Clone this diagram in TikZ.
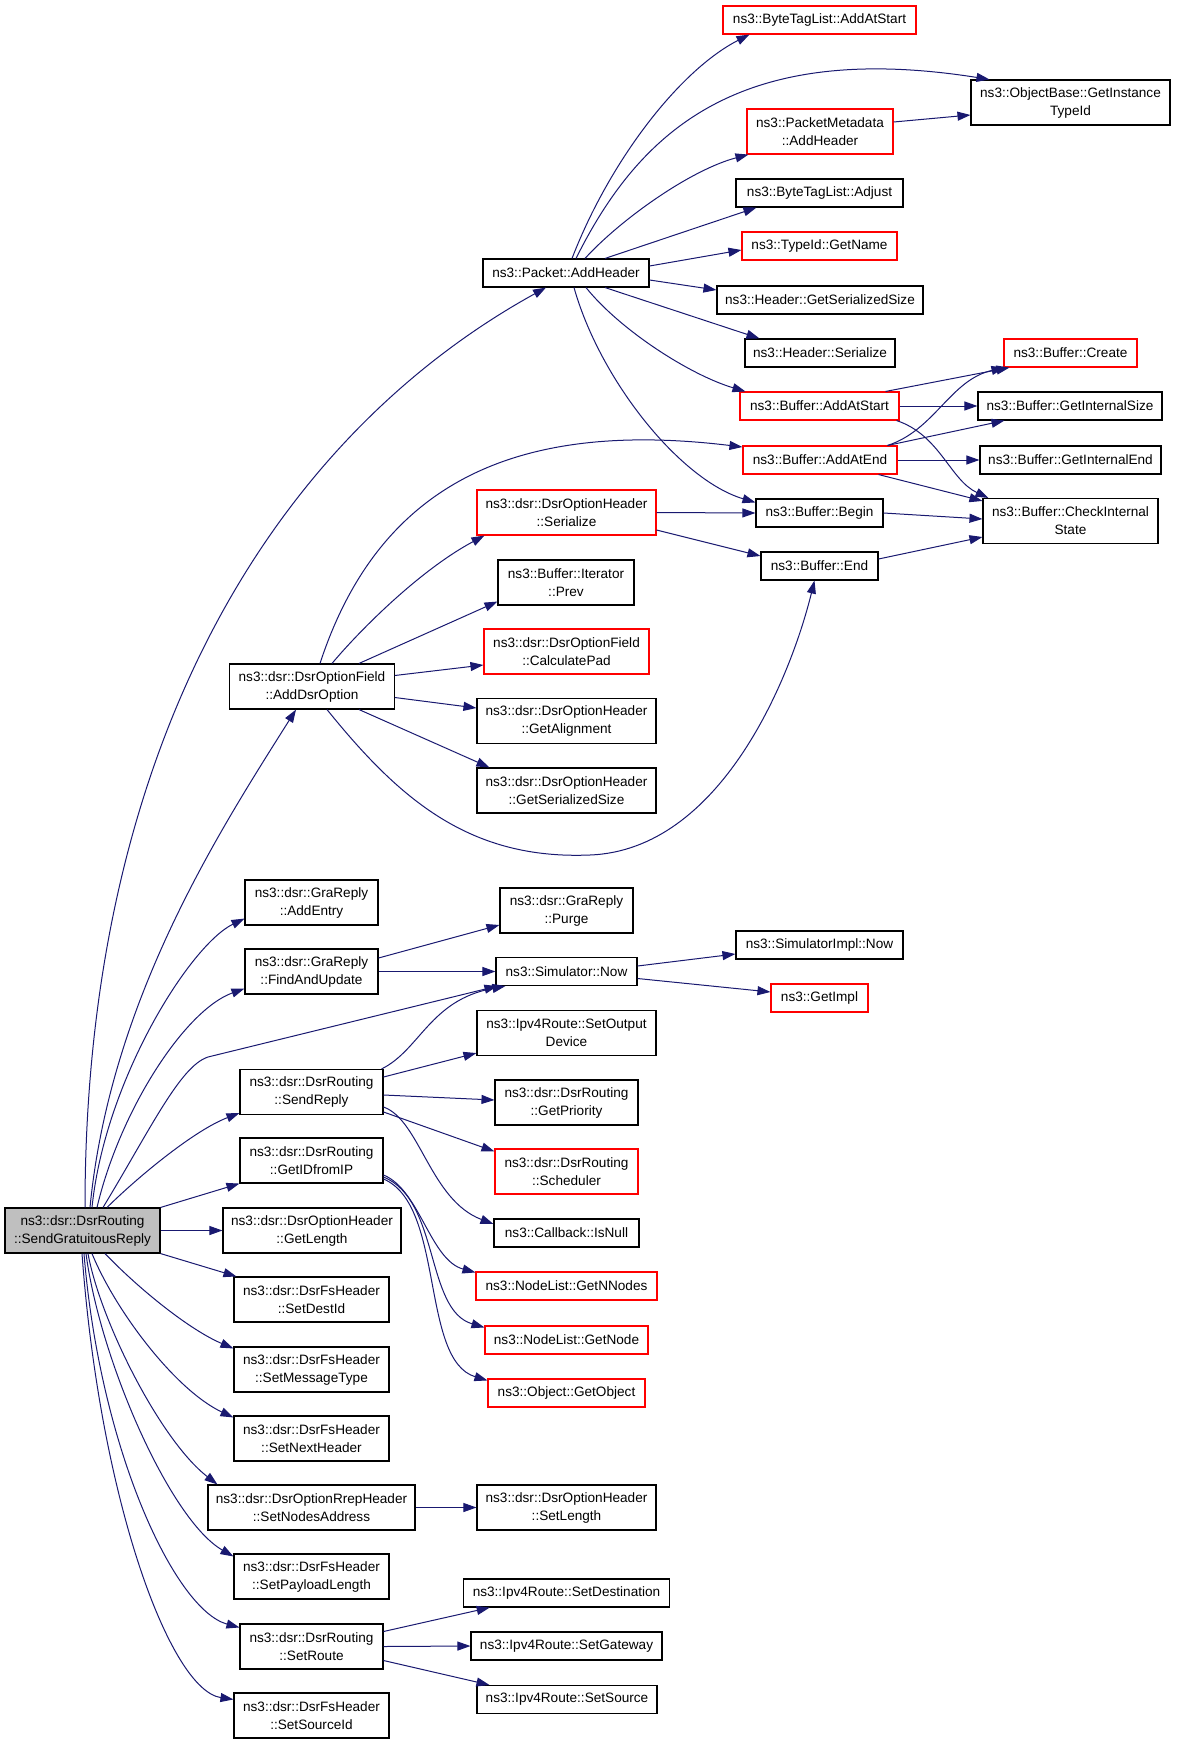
\documentclass[tikz,border=0pt]{standalone}
\usepackage{fontspec}
\setmainfont{Liberation Sans}
\usetikzlibrary{arrows.meta}
\definecolor{edgeblue}{HTML}{191970}
\definecolor{fngray}{HTML}{BFBFBF}

\begin{document}
\begin{tikzpicture}[x=1pt, y=-1pt,
        font=\fontsize{13.6}{18}\selectfont,
        fn/.style={rectangle, draw=black, line width=1.1pt, inner sep=0pt,
                   align=center, minimum height=28pt},
        fntwo/.style={fn, minimum height=45pt},
        cut/.style={draw=red},
        call/.style={-{Triangle[length=13pt, width=9pt]}, draw=edgeblue,
                     line width=1pt}]
        \useasboundingbox (0,0) rectangle (1176,1744);

        \node[fntwo, fill=fngray, minimum width=155pt] (sgr) at (82.5,1230.5) {ns3::dsr::DsrRouting\\::SendGratuitousReply};
        \node[fn, minimum width=166pt] (pah) at (566,273) {ns3::Packet::AddHeader};
        \node[fn, cut, minimum width=193pt] (btla) at (819.5,20) {ns3::ByteTagList::AddAtStart};
        \node[fntwo, minimum width=199pt] (obgit) at (1070.5,102.5) {ns3::ObjectBase::GetInstance\\TypeId};
        \node[fntwo, cut, minimum width=146pt] (pmah) at (820,131.5) {ns3::PacketMetadata\\::AddHeader};
        \node[fn, minimum width=167pt] (btladj) at (819.5,193) {ns3::ByteTagList::Adjust};
        \node[fn, cut, minimum width=155pt] (tgn) at (819.5,246) {ns3::TypeId::GetName};
        \node[fn, minimum width=206pt] (hgss) at (820,300) {ns3::Header::GetSerializedSize};
        \node[fn, minimum width=150pt] (hser) at (820,353) {ns3::Header::Serialize};
        \node[fn, cut, minimum width=133pt] (bcre) at (1070.5,353) {ns3::Buffer::Create};
        \node[fn, cut, minimum width=159pt] (baas) at (819.5,406) {ns3::Buffer::AddAtStart};
        \node[fn, minimum width=184pt] (bgis) at (1070,406) {ns3::Buffer::GetInternalSize};
        \node[fn, cut, minimum width=154pt] (baae) at (820,460) {ns3::Buffer::AddAtEnd};
        \node[fn, minimum width=181pt] (bgie) at (1070.5,460) {ns3::Buffer::GetInternalEnd};
        \node[fn, minimum width=127pt] (bbeg) at (819.5,513) {ns3::Buffer::Begin};
        \node[fntwo, minimum width=175pt] (bcis) at (1070.5,521) {ns3::Buffer::CheckInternal\\State};
        \node[fntwo, cut, minimum width=179pt] (dohser) at (566.5,512.5) {ns3::dsr::DsrOptionHeader\\::Serialize};
        \node[fn, minimum width=117pt] (bend) at (819.5,566) {ns3::Buffer::End};
        \node[fntwo, minimum width=136pt] (bip) at (566,582.5) {ns3::Buffer::Iterator\\::Prev};
        \node[fntwo, cut, minimum width=165pt] (dofcp) at (566.5,651.5) {ns3::dsr::DsrOptionField\\::CalculatePad};
        \node[fntwo, minimum width=179pt] (dohga) at (566.5,721) {ns3::dsr::DsrOptionHeader\\::GetAlignment};
        \node[fntwo, minimum width=179pt] (dohgss) at (566.5,790.5) {ns3::dsr::DsrOptionHeader\\::GetSerializedSize};
        \node[fntwo, minimum width=164.5pt] (dofado) at (312,686.5) {ns3::dsr::DsrOptionField\\::AddDsrOption};
        \node[fntwo, minimum width=133pt] (grae) at (311.5,902.5) {ns3::dsr::GraReply\\::AddEntry};
        \node[fntwo, minimum width=133pt] (grafu) at (311.5,971.5) {ns3::dsr::GraReply\\::FindAndUpdate};
        \node[fntwo, minimum width=133pt] (grpu) at (566.5,910.5) {ns3::dsr::GraReply\\::Purge};
        \node[fn, minimum width=141pt] (snow) at (566.5,971.5) {ns3::Simulator::Now};
        \node[fn, minimum width=167pt] (sinow) at (819.5,945) {ns3::SimulatorImpl::Now};
        \node[fn, cut, minimum width=97pt] (gimpl) at (819.5,998) {ns3::GetImpl};
        \node[fntwo, minimum width=179pt] (ipsod) at (566.5,1033) {ns3::Ipv4Route::SetOutput\\Device};
        \node[fntwo, minimum width=143pt] (dsrsr) at (311.5,1092) {ns3::dsr::DsrRouting\\::SendReply};
        \node[fntwo, minimum width=143pt] (dsrgp) at (566.5,1102.5) {ns3::dsr::DsrRouting\\::GetPriority};
        \node[fntwo, cut, minimum width=143pt] (dsrsch) at (566.5,1171.5) {ns3::dsr::DsrRouting\\::Scheduler};
        \node[fntwo, minimum width=143pt] (dsrgid) at (311.5,1160.5) {ns3::dsr::DsrRouting\\::GetIDfromIP};
        \node[fn, minimum width=145pt] (cbnull) at (566.5,1233) {ns3::Callback::IsNull};
        \node[fn, cut, minimum width=181pt] (nlgnn) at (566.5,1286) {ns3::NodeList::GetNNodes};
        \node[fn, cut, minimum width=163pt] (nlgn) at (566.5,1340) {ns3::NodeList::GetNode};
        \node[fn, cut, minimum width=157pt] (oggo) at (566.5,1393) {ns3::Object::GetObject};
        \node[fntwo, minimum width=178pt] (dohgl) at (312,1230.5) {ns3::dsr::DsrOptionHeader\\::GetLength};
        \node[fntwo, minimum width=155pt] (fssdi) at (311.5,1299.5) {ns3::dsr::DsrFsHeader\\::SetDestId};
        \node[fntwo, minimum width=155pt] (fssmt) at (311.5,1369.5) {ns3::dsr::DsrFsHeader\\::SetMessageType};
        \node[fntwo, minimum width=155pt] (fssnh) at (311.5,1438.5) {ns3::dsr::DsrFsHeader\\::SetNextHeader};
        \node[fntwo, minimum width=207pt] (rrepsna) at (311.5,1507.5) {ns3::dsr::DsrOptionRrepHeader\\::SetNodesAddress};
        \node[fntwo, minimum width=179pt] (dohsl) at (566.5,1507.5) {ns3::dsr::DsrOptionHeader\\::SetLength};
        \node[fntwo, minimum width=155pt] (fsspl) at (311.5,1576.5) {ns3::dsr::DsrFsHeader\\::SetPayloadLength};
        \node[fntwo, minimum width=143pt] (dsrsrt) at (311.5,1646.5) {ns3::dsr::DsrRouting\\::SetRoute};
        \node[fntwo, minimum width=155pt] (fsssi) at (311.5,1715.5) {ns3::dsr::DsrFsHeader\\::SetSourceId};
        \node[fn, minimum width=205.5pt] (ipsdst) at (566.5,1593) {ns3::Ipv4Route::SetDestination};
        \node[fn, minimum width=191pt] (ipsgw) at (566.5,1646) {ns3::Ipv4Route::SetGateway};
        \node[fn, minimum width=180pt] (ipssrc) at (567,1699.5) {ns3::Ipv4Route::SetSource};

        \coordinate (nowbend) at (208,1057);
        \coordinate (endlow) at (590,855);

        \draw[call] ([xshift=2.5pt]sgr.north) .. controls (85,750) and (270,440) .. ([xshift=-20pt]pah.south);
        \draw[call] ([xshift=7.5pt]sgr.north) .. controls (110,1000) and (220,830) .. ([xshift=-16pt]dofado.south);
        \draw[call] ([xshift=9.5pt]sgr.north) .. controls (105,1080) and (190,945) .. ([yshift=7pt]grae.south west);
        \draw[call] ([xshift=14.5pt]sgr.north) .. controls (120,1110) and (185,1010) .. ([yshift=6pt]grafu.south west);
        \draw[call] ([xshift=20.5pt]sgr.north) .. controls (150,1130) and (180,1066) .. (nowbend) -- ([xshift=2pt]snow.south west);
        \draw[call] ([xshift=24.5pt]sgr.north) .. controls (140,1175) and (195,1130) .. ([yshift=2pt]dsrsr.south west);
        \draw[call] ([xshift=22.5pt]sgr.south) .. controls (140,1290) and (190,1330) .. ([yshift=-2pt]fssmt.north west);
        \draw[call] ([xshift=9.5pt]sgr.south) .. controls (115,1310) and (175,1390) .. ([yshift=-2pt]fssnh.north west);
        \draw[call] ([xshift=5.5pt]sgr.south) .. controls (100,1320) and (160,1440) .. ([xshift=10pt]rrepsna.north west);
        \draw[call] ([xshift=3.5pt]sgr.south) .. controls (100,1360) and (170,1520) .. ([yshift=-3pt]fsspl.north west);
        \draw[call] ([xshift=1.5pt]sgr.south) .. controls (100,1450) and (175,1610) .. ([yshift=-4pt]dsrsrt.north west);
        \draw[call] ([xshift=-0.5pt]sgr.south) .. controls (100,1500) and (170,1690) .. ([yshift=-7pt]fsssi.north west);
        \path
            (sgr.north east) edge[call] (dsrgid.south west)
            (sgr.east) edge[call] (dohgl.west)
            (sgr.south east) edge[call] ([xshift=3pt]fssdi.north west);

        \draw[call] ([xshift=6pt]pah.north) .. controls (610,160) and (680,70) .. ([xshift=27pt]btla.south west);
        \draw[call] ([xshift=10pt]pah.north) .. controls (640,130) and (740,40) .. ([xshift=19pt]obgit.north west);
        \draw[call] ([xshift=19pt]pah.north) .. controls (620,220) and (690,170) .. ([xshift=2pt]pmah.south west);
        \draw[call] ([xshift=20pt]pah.south) .. controls (620,330) and (690,375) .. ([xshift=6pt]baas.north west);
        \draw[call] ([xshift=8pt]pah.south) .. controls (600,380) and (680,480) .. ([yshift=-4pt]bbeg.north west);
        \path
            ([xshift=39pt]pah.north) edge[call] ([xshift=21pt]btladj.south west)
            ([yshift=7pt]pah.east) edge[call] ([yshift=-4pt]tgn.west)
            ([yshift=-7pt]pah.east) edge[call] ([yshift=10pt]hgss.west)
            ([xshift=39pt]pah.south) edge[call] ([xshift=15pt]hser.north west)
            ([yshift=9.5pt]pmah.east) edge[call] ([yshift=-12.5pt]obgit.west);

        \draw[call] ([xshift=-3pt]baas.south east) .. controls (940,435) and (950,480) .. ([xshift=6pt]bcis.north west);
        \draw[call] ([xshift=-10pt]baae.north east) .. controls (935,430) and (950,380) .. ([xshift=1pt]bcre.south west);
        \path
            ([xshift=-14pt]baas.north east) edge[call] ([xshift=6pt]bcre.south west)
            (baas.east) edge[call] (bgis.west)
            ([xshift=-10pt]baae.north east) edge[call] ([xshift=27pt]bgis.south west)
            (baae.east) edge[call] (bgie.west)
            ([xshift=-19pt]baae.south east) edge[call] ([yshift=-3pt]bcis.north west)
            (bbeg.east) edge[call] ([yshift=2pt]bcis.west)
            ([yshift=7pt]bend.east) edge[call] ([yshift=-16pt]bcis.west)
            (dohser.east) edge[call] (bbeg.west)
            ([yshift=-17.5pt]dohser.east) edge[call] ([yshift=10pt]bend.west);

        \draw[call] ([xshift=8pt]dofado.north) .. controls (380,480) and (520,420) .. ([yshift=13pt]baae.west);
        \draw[call] ([xshift=20pt]dofado.north) .. controls (360,630) and (420,570) .. ([xshift=8pt]dohser.south west);
        \draw[call] ([xshift=15pt]dofado.south) .. controls (400,800) and (470,860) .. (endlow)
            .. controls (720,850) and (790,680) .. ([xshift=-5pt]bend.south);
        \path
            ([xshift=47pt]dofado.north) edge[call] ([yshift=4pt]bip.south west)
            ([yshift=11pt]dofado.east) edge[call] ([yshift=-13.5pt]dofcp.west)
            ([yshift=-11pt]dofado.east) edge[call] ([yshift=13pt]dohga.west)
            ([xshift=47pt]dofado.south) edge[call] ([xshift=13pt]dohgss.north west);

        \path
            ([yshift=13.5pt]grafu.east) edge[call] ([yshift=-14.5pt]grpu.west)
            (grafu.east) edge[call] (snow.west)
            ([yshift=5.5pt]snow.east) edge[call] ([yshift=-9pt]sinow.west)
            ([yshift=-7pt]snow.east) edge[call] ([yshift=6pt]gimpl.west);

        \draw[call] ([xshift=-2pt]dsrsr.north east) .. controls (420,1050) and (430,1000) .. ([xshift=10pt]snow.south west);
        \draw[call] ([yshift=-15pt]dsrsr.east) .. controls (420,1120) and (430,1200) .. ([yshift=9pt]cbnull.west);
        \path
            ([yshift=15pt]dsrsr.east) edge[call] ([yshift=3pt]ipsod.south west)
            ([yshift=-3pt]dsrsr.east) edge[call] ([yshift=2.5pt]dsrgp.west)
            ([yshift=-20pt]dsrsr.east) edge[call] ([yshift=-3pt]dsrsch.north west);

        \draw[call] ([yshift=-14.5pt]dsrgid.east) .. controls (420,1190) and (430,1260) .. ([yshift=-1pt]nlgnn.north west);
        \draw[call] ([yshift=-16.5pt]dsrgid.east) .. controls (440,1200) and (425,1310) .. ([yshift=-2pt]nlgn.north west);
        \draw[call] ([yshift=-18.5pt]dsrgid.east) .. controls (445,1205) and (420,1360) .. ([yshift=-2pt]oggo.north west);

        \path
            (rrepsna.east) edge[call] (dohsl.west)
            ([yshift=15pt]dsrsrt.east) edge[call] ([xshift=26.5pt]ipsdst.south west)
            (dsrsrt.east) edge[call] (ipsgw.west)
            ([yshift=-14pt]dsrsrt.east) edge[call] ([xshift=13pt]ipssrc.north west);
\end{tikzpicture}
\end{document}
